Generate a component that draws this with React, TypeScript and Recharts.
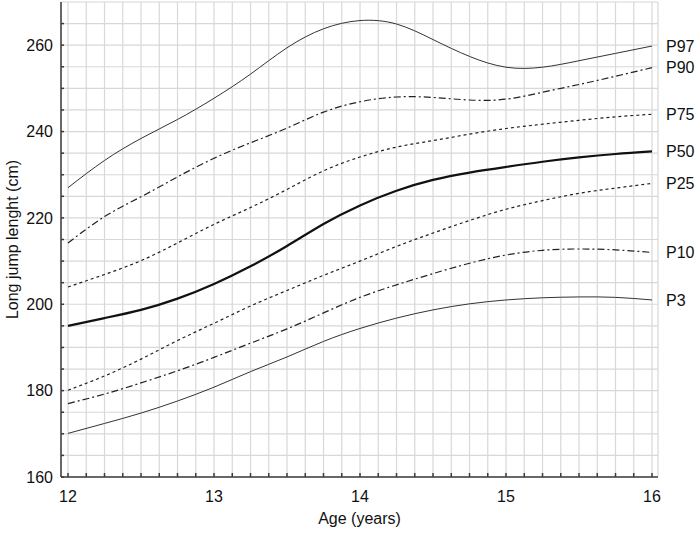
import { LineChart, Line, XAxis, YAxis, CartesianGrid } from 'recharts'

// ages sampled every quarter year
const AGES = [12, 12.25, 12.5, 12.75, 13, 13.25, 13.5, 13.75, 14, 14.25, 14.5, 14.75, 15, 15.25, 15.5, 15.75, 16]

const P97 = [227, 233.3, 238.4, 242.8, 247.7, 253.3, 259.4, 263.8, 265.7, 264.9, 261.3, 257.4, 254.9, 254.9, 256.4, 258.1, 259.8]
const P90 = [214.2, 220.3, 224.9, 229.5, 233.8, 237.4, 240.8, 244.5, 246.9, 248, 247.9, 247.3, 247.5, 249.1, 250.9, 252.8, 254.8]
const P75 = [204, 206.9, 210.1, 214.2, 218.5, 222.4, 226.6, 230.9, 234.1, 236.4, 237.9, 239.4, 240.7, 241.7, 242.6, 243.4, 244]
const P50 = [195, 196.8, 198.7, 201.3, 204.7, 208.8, 213.5, 218.6, 222.9, 226.3, 228.8, 230.5, 231.8, 233, 234, 234.8, 235.4]
const P25 = [180.1, 183.4, 187.3, 191.6, 195.6, 199.6, 203.2, 206.7, 210, 213.4, 216.5, 219.4, 222, 224, 225.7, 226.9, 228]
const P10 = [177, 179.2, 181.8, 184.6, 187.7, 191, 194.3, 198, 201.6, 204.5, 207.1, 209.5, 211.4, 212.5, 212.8, 212.6, 212]
const P3 = [170.1, 172.4, 174.8, 177.6, 180.8, 184.4, 187.8, 191.4, 194.4, 196.8, 198.7, 200.1, 201, 201.5, 201.7, 201.6, 201]

const X_LABEL_TICKS = [12, 13, 14, 15, 16]
const Y_LABEL_TICKS = [160, 180, 200, 220, 240, 260]
const X_MINOR_TICKS = Array.from({ length: 33 }, (_, i) => 12 + i * 0.125)
const Y_MINOR_TICKS = Array.from({ length: 22 }, (_, i) => 160 + i * 5)

const X_DOMAIN: [number, number] = [11.952, 16.041]
const Y_DOMAIN: [number, number] = [160, 270]

const data = AGES.map((age, i) => ({
  age, p97: P97[i], p90: P90[i], p75: P75[i], p50: P50[i], p25: P25[i], p10: P10[i], p3: P3[i],
}))

const SERIES = [
  { key: 'p97', name: 'P97', width: 1, dash: undefined, color: '#333' },
  { key: 'p90', name: 'P90', width: 1.2, dash: '7 3 2 3', color: '#222' },
  { key: 'p75', name: 'P75', width: 1.2, dash: '3 3', color: '#222' },
  { key: 'p50', name: 'P50', width: 2.2, dash: undefined, color: '#111' },
  { key: 'p25', name: 'P25', width: 1.2, dash: '3 3', color: '#222' },
  { key: 'p10', name: 'P10', width: 1.2, dash: '7 3 2 3', color: '#222' },
  { key: 'p3', name: 'P3', width: 1, dash: undefined, color: '#333' },
]

const FONT = '"Liberation Sans", Arial, sans-serif'
const AXIS_COLOR = '#3c3c3c'

// draws the percentile name just right of the last point
function endLabel(name: string) {
  return (props: any) => {
    const { cx, cy, index } = props
    if (index !== AGES.length - 1) return <g key={`${name}-${index}`} />
    return (
      <text key={`${name}-end`} x={cx + 14} y={cy} dy="0.35em" fontSize={16} fontFamily={FONT} fill="#111">
        {name}
      </text>
    )
  }
}

export default function App() {
  return (
    <div style={{ position: 'absolute', left: 0, top: 0, background: '#fff' }}>
      <LineChart width={699} height={535} data={data} margin={{ top: 2, right: 41, bottom: 28, left: 6 }}>
        <CartesianGrid stroke="#d8d8d8" strokeWidth={1.2} />
        <XAxis
          dataKey="age"
          type="number"
          domain={X_DOMAIN}
          ticks={X_MINOR_TICKS}
          interval={0}
          height={30}
          tickSize={-4}
          tickMargin={18}
          tickFormatter={(v: number) => (Number.isInteger(v) ? String(v) : '')}
          stroke={AXIS_COLOR}
          strokeWidth={1.5}
          tick={{ fontSize: 16, fill: '#111', fontFamily: FONT }}
          label={{ value: 'Age (years)', position: 'bottom', offset: 6, style: { fontSize: 16, fill: '#111', fontFamily: FONT } }}
        />
        <XAxis
          xAxisId="top"
          orientation="top"
          type="number"
          domain={X_DOMAIN}
          ticks={X_LABEL_TICKS}
          height={0}
          tickSize={-5}
          tick={false}
          stroke="#555"
          strokeWidth={1.8}
        />
        <YAxis
          type="number"
          domain={Y_DOMAIN}
          ticks={Y_MINOR_TICKS}
          interval={0}
          width={55}
          tickSize={-3}
          tickMargin={11}
          tickFormatter={(v: number) => (Y_LABEL_TICKS.includes(v) ? String(v) : '')}
          stroke={AXIS_COLOR}
          strokeWidth={1.5}
          tick={{ fontSize: 16, fill: '#111', fontFamily: FONT }}
          label={{
            value: 'Long jump lenght (cm)', angle: -90, position: 'insideLeft', offset: 6,
            style: { textAnchor: 'middle', fontSize: 16, fill: '#111', fontFamily: FONT },
          }}
        />
        <YAxis
          yAxisId="right"
          orientation="right"
          type="number"
          domain={Y_DOMAIN}
          ticks={Y_LABEL_TICKS}
          width={0}
          tickSize={-5}
          tick={false}
          stroke={AXIS_COLOR}
          strokeWidth={1.5}
        />
        {SERIES.map((s) => (
          <Line
            key={s.key}
            dataKey={s.key}
            type="natural"
            stroke={s.color}
            strokeWidth={s.width}
            strokeDasharray={s.dash}
            dot={endLabel(s.name)}
            activeDot={false}
            isAnimationActive={false}
          />
        ))}
      </LineChart>
    </div>
  )
}
